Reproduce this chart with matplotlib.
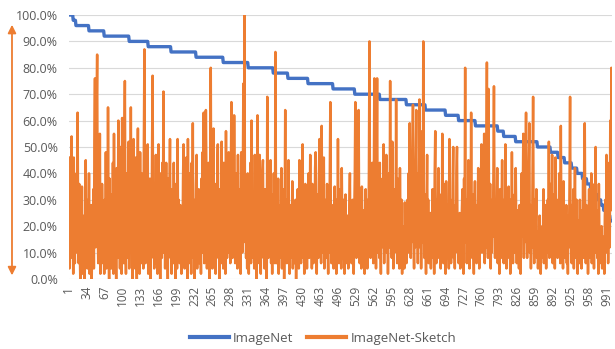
import numpy as np
import matplotlib.pyplot as plt
from matplotlib.patches import FancyArrowPatch
from matplotlib.ticker import PercentFormatter

# ImageNet accuracy per class (sorted), stored as step levels (%) and run lengths
imagenet_levels = [100, 98, 96, 94, 92, 90, 88, 86, 84, 82, 80, 78, 76, 74, 72, 70, 68, 66, 64, 62,
                   60, 58, 56, 54, 52, 50, 48, 46, 44, 42, 40, 38, 36, 34, 32, 30, 28, 26, 24, 22]
imagenet_counts = [8, 5, 24, 28, 46, 35, 42, 46, 50, 46, 46, 27, 37, 46, 40, 46, 49, 35, 37, 24,
                   31, 41, 11, 22, 40, 24, 14, 12, 13, 10, 10, 8, 7, 7, 6, 6, 5, 6, 6, 4]

# ImageNet-Sketch accuracy per class (%), same class order
sketch = [
    46, 4, 30, 12, 38, 54, 8, 22, 2, 46, 18, 6, 34, 10, 40, 14, 63, 20, 6, 36,
    12, 0, 28, 8, 35, 2, 18, 6, 24, 0, 14, 45, 10, 30, 4, 22, 8, 40, 2, 16,
    6, 28, 0, 20, 10, 34, 4, 52, 76, 12, 40, 64, 85, 20, 6, 44, 10, 55, 2, 30,
    8, 36, 18, 6, 14, 2, 30, 10, 48, 4, 26, 12, 65, 18, 0, 38, 8, 24, 4, 32,
    10, 44, 2, 55, 14, 6, 30, 0, 42, 16, 8, 60, 12, 36, 4, 50, 20, 2, 61, 10,
    34, 6, 48, 75, 18, 2, 40, 8, 26, 12, 52, 4, 30, 14, 65, 10, 22, 0, 44, 53,
    8, 28, 4, 46, 14, 0, 36, 57, 10, 24, 2, 48, 16, 6, 40, 12, 30, 4, 52, 87,
    20, 6, 34, 10, 42, 51, 2, 26, 14, 38, 0, 22, 8, 48, 77, 12, 30, 4, 36, 10,
    47, 6, 24, 2, 36, 51, 12, 28, 0, 40, 16, 8, 44, 20, 71, 10, 32, 4, 18, 44,
    6, 26, 0, 38, 12, 30, 53, 8, 20, 2, 34, 14, 6, 44, 10, 28, 0, 36, 16, 4,
    53, 12, 30, 20, 6, 28, 10, 2, 24, 8, 38, 51, 14, 4, 32, 10, 46, 22, 0, 53,
    18, 6, 40, 12, 28, 2, 44, 16, 59, 8, 30, 0, 24, 10, 36, 47, 4, 20, 12, 34,
    6, 28, 14, 2, 38, 10, 48, 20, 63, 6, 32, 12, 64, 40, 4, 26, 8, 44, 16, 0,
    30, 80, 10, 42, 4, 24, 57, 14, 6, 36, 2, 20, 12, 40, 51, 8, 28, 0, 34, 16,
    6, 52, 18, 30, 4, 44, 12, 26, 2, 56, 20, 8, 38, 14, 48, 10, 32, 6, 40, 67,
    24, 8, 44, 16, 62, 30, 6, 40, 12, 22, 4, 47, 18, 8, 34, 14, 2, 48, 26, 10,
    36, 74, 20, 100, 14, 30, 8, 22, 4, 40, 10, 2, 28, 12, 44, 6, 60, 18, 32, 8,
    24, 4, 47, 14, 30, 0, 20, 62, 10, 36, 6, 47, 16, 2, 28, 12, 40, 45, 8, 22,
    4, 34, 14, 26, 0, 69, 18, 8, 38, 12, 28, 45, 6, 20, 2, 32, 10, 40, 16, 6,
    86, 24, 6, 30, 12, 38, 2, 18, 8, 28, 14, 42, 4, 22, 10, 34, 0, 20, 64, 12,
    30, 6, 24, 10, 45, 16, 2, 28, 8, 20, 12, 37, 4, 18, 26, 6, 14, 30, 0, 22,
    10, 34, 18, 4, 45, 12, 26, 6, 38, 14, 51, 8, 28, 2, 20, 36, 10, 24, 4, 30,
    16, 40, 8, 22, 47, 12, 30, 4, 36, 18, 6, 26, 10, 42, 48, 14, 2, 32, 20, 8,
    38, 53, 16, 28, 6, 58, 24, 10, 34, 46, 4, 20, 12, 30, 8, 36, 14, 2, 26, 10,
    40, 67, 18, 6, 28, 12, 22, 4, 16, 35, 8, 24, 2, 30, 14, 53, 20, 6, 34, 10,
    26, 4, 42, 16, 8, 30, 12, 2, 20, 32, 6, 18, 10, 24, 4, 14, 28, 40, 8, 22,
    6, 16, 30, 10, 2, 24, 40, 67, 18, 8, 34, 12, 46, 64, 20, 6, 28, 14, 4, 35,
    12, 26, 6, 20, 2, 16, 34, 10, 24, 4, 30, 14, 42, 90, 18, 8, 28, 12, 44, 20,
    6, 36, 76, 14, 30, 4, 40, 76, 22, 10, 34, 8, 44, 16, 2, 28, 12, 38, 20, 51,
    6, 24, 14, 36, 47, 10, 28, 2, 20, 40, 12, 75, 18, 30, 8, 52, 16, 4, 26, 10,
    34, 14, 68, 22, 6, 38, 12, 28, 4, 42, 18, 8, 30, 2, 20, 10, 16, 4, 29, 12,
    22, 6, 18, 30, 10, 40, 16, 59, 24, 8, 36, 14, 48, 66, 20, 4, 34, 12, 44, 64,
    18, 30, 6, 40, 22, 68, 12, 34, 4, 26, 56, 14, 90, 24, 8, 32, 16, 2, 28, 47,
    12, 30, 6, 20, 10, 25, 4, 16, 8, 34, 14, 28, 2, 40, 56, 18, 6, 30, 12, 24,
    42, 8, 26, 14, 4, 32, 12, 55, 20, 6, 36, 10, 24, 2, 37, 16, 8, 28, 14, 4,
    53, 18, 30, 6, 24, 12, 36, 50, 8, 20, 4, 28, 14, 40, 50, 10, 22, 6, 14, 25,
    4, 18, 8, 26, 34, 12, 2, 38, 20, 80, 14, 30, 6, 24, 10, 45, 16, 4, 28, 12,
    63, 20, 8, 32, 14, 2, 24, 37, 10, 18, 6, 28, 12, 42, 20, 4, 30, 14, 36, 51,
    10, 24, 38, 16, 55, 6, 30, 12, 44, 82, 20, 8, 72, 26, 14, 36, 4, 22, 10, 30,
    16, 40, 73, 24, 8, 30, 12, 20, 42, 6, 26, 14, 2, 34, 18, 8, 28, 45, 12, 22,
    6, 30, 14, 51, 20, 4, 26, 10, 18, 35, 8, 22, 2, 30, 12, 48, 16, 6, 24, 10,
    32, 14, 42, 20, 6, 26, 10, 18, 4, 28, 12, 2, 22, 40, 16, 30, 55, 8, 34, 14,
    40, 63, 20, 8, 36, 14, 44, 59, 10, 28, 4, 22, 12, 38, 69, 16, 6, 30, 12, 24,
    34, 8, 18, 4, 14, 6, 24, 10, 2, 16, 8, 20, 12, 34, 6, 22, 14, 28, 4, 18,
    10, 30, 16, 52, 8, 24, 36, 12, 20, 47, 6, 28, 14, 32, 4, 46, 18, 10, 26, 8,
    30, 14, 40, 20, 6, 58, 18, 10, 26, 4, 37, 12, 22, 8, 16, 28, 6, 18, 2, 24,
    12, 36, 69, 16, 28, 6, 20, 10, 34, 4, 24, 42, 14, 8, 30, 12, 2, 22, 16, 6,
    30, 10, 20, 4, 26, 14, 38, 8, 44, 59, 18, 6, 28, 12, 22, 2, 16, 34, 8, 20,
    12, 40, 6, 24, 14, 30, 4, 36, 18, 50, 10, 26, 8, 20, 2, 36, 14, 6, 18, 10,
    20, 4, 12, 8, 16, 2, 24, 30, 10, 47, 14, 38, 6, 22, 44, 12, 60, 26, 80, 42,
]

imagenet = np.repeat(imagenet_levels, imagenet_counts)
classes = np.arange(1, len(sketch) + 1)
tick_labels = list(range(1, 1001, 33))

plt.rcParams['font.family'] = ['Open Sans', 'DejaVu Sans']
text_color = '#595959'

fig = plt.figure(figsize=(6.15, 3.49), dpi=100)
ax = fig.add_axes([0.112, 0.2006, 0.883, 0.7564])

ax.plot(classes, imagenet, color='#4472C4', lw=2.4, label='ImageNet', zorder=2)
ax.plot(classes, sketch, color='#ED7D31', lw=1.8, label='ImageNet-Sketch', zorder=3)

ax.set_xlim(1, 1000)
ax.set_ylim(0, 100)
ax.set_yticks(np.arange(0, 101, 10))
ax.yaxis.set_major_formatter(PercentFormatter(decimals=1))
ax.set_xticks(tick_labels)
ax.set_xticklabels([str(t) for t in tick_labels], rotation=90)
ax.tick_params(axis='both', length=0, colors=text_color, labelsize=8.5)
ax.tick_params(axis='y', labelsize=9, pad=8)
ax.tick_params(axis='x', pad=5)
ax.grid(axis='y', color='#D9D9D9', lw=0.8, zorder=0)
ax.set_axisbelow(True)
for s in ax.spines.values():
    s.set_visible(False)

# double arrow on the left
fig.patches.append(FancyArrowPatch(
    (0.0195, 0.937), (0.0195, 0.203), transform=fig.transFigure,
    arrowstyle='<|-|>', mutation_scale=12, color='#ED7D31', lw=1.3))

leg = fig.legend(loc='center', bbox_to_anchor=(0.525, 0.03), ncol=2, frameon=False,
                 fontsize=9.5, labelcolor=text_color, handlelength=3.0, handletextpad=0.3,
                 columnspacing=1.0)
for h in leg.get_lines():
    h.set_linewidth(3)

fig.savefig('out.png', dpi=100)
